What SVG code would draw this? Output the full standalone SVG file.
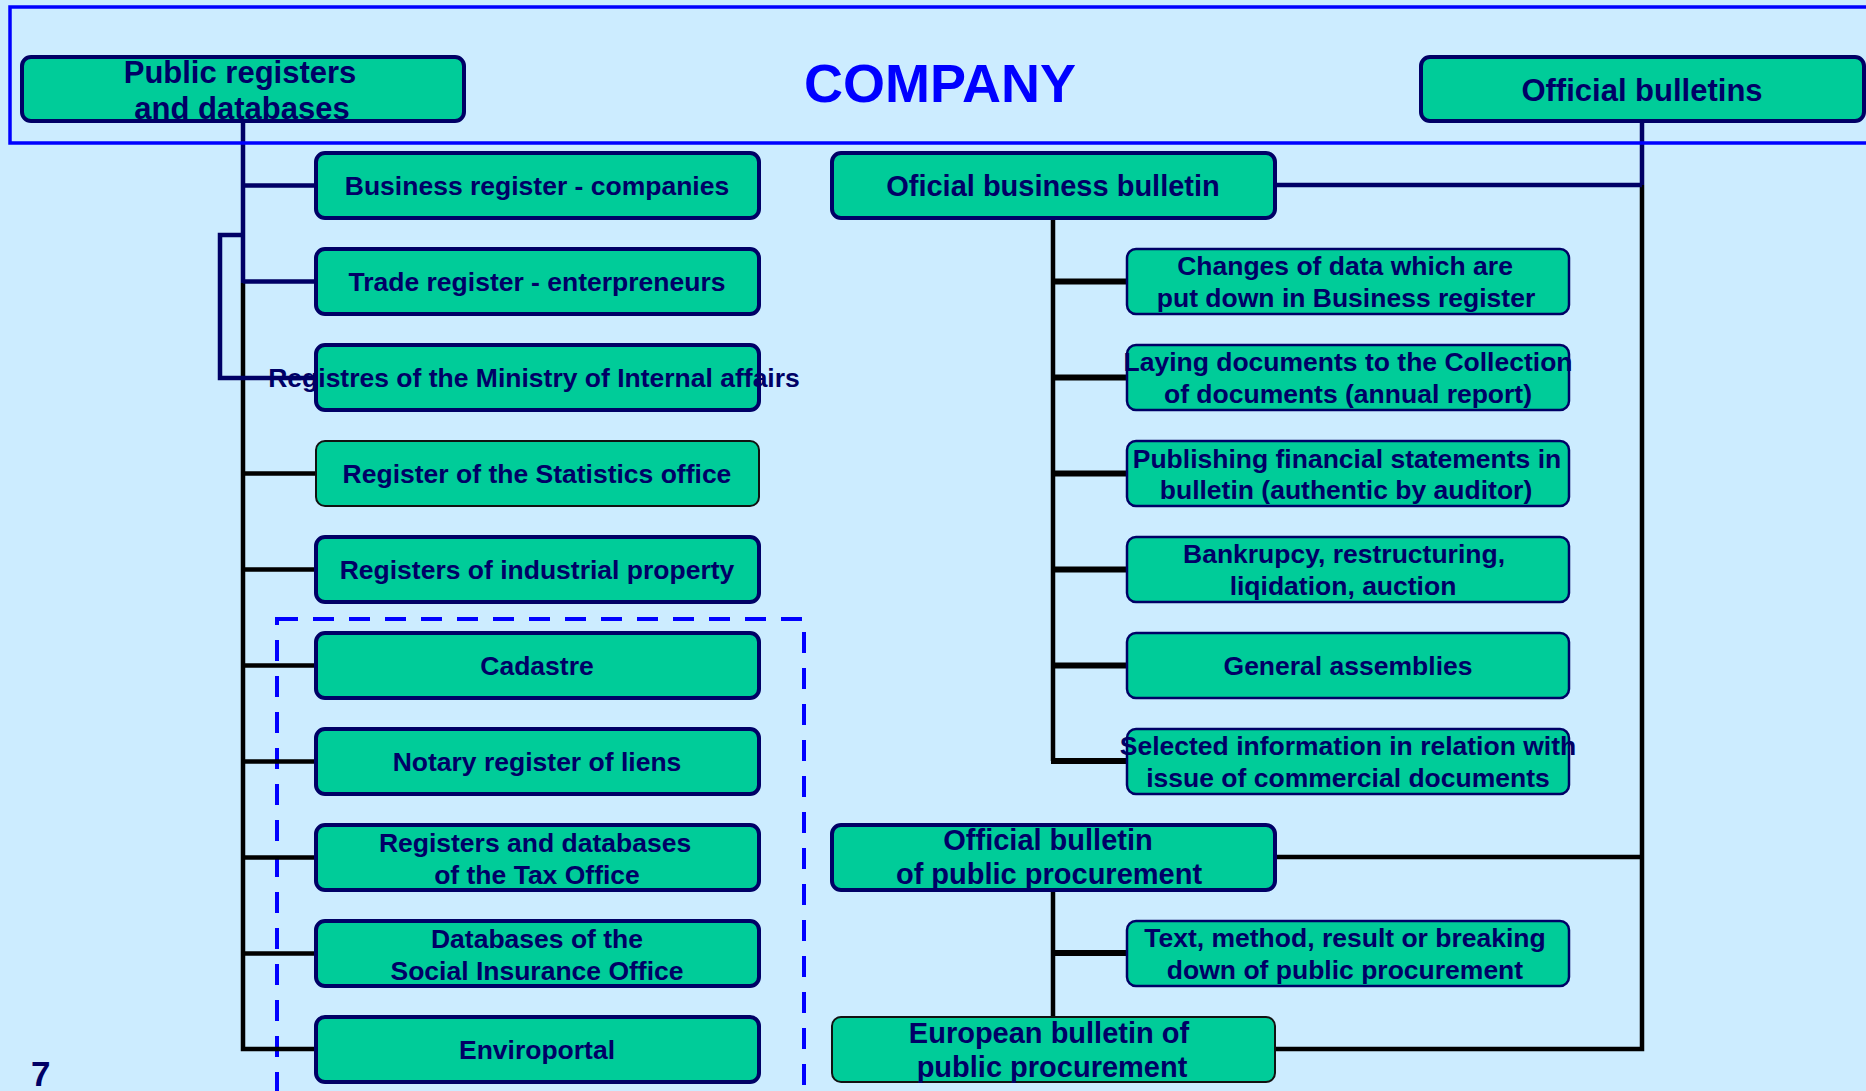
<svg xmlns="http://www.w3.org/2000/svg" width="1866" height="1091" viewBox="0 0 1866 1091">
<style>
.bg{fill:#CCECFF}
.box{fill:#00CC99;stroke:#000066;stroke-width:4}
.thin{stroke-width:2.5}
.blk{stroke:#111111;stroke-width:2}
.t{font-family:"Liberation Sans",Arial,sans-serif;font-weight:bold;fill:#000066;text-anchor:middle}
.s26{font-size:26.5px}
.s29{font-size:29px}
.s31{font-size:31px}
.nv{fill:none;stroke:#000066;stroke-width:4.5}
.bk{fill:none;stroke:#000000;stroke-width:4.5}
.br{fill:none;stroke:#000000;stroke-width:6}
</style>
<rect class="bg" x="0" y="0" width="1866" height="1091"/>
<rect id="group-frame" x="277" y="619" width="527" height="520" fill="none" stroke="#0000FF" stroke-width="4" stroke-dasharray="21 15"/>
<g id="connectors">
  <path class="bk" d="M243,283 V1049 H316"/>
  <path class="bk" d="M243,473.5 H316 M243,569.5 H316 M243,665.5 H316 M243,761.5 H316 M243,857.5 H316 M243,953.5 H316"/>
  <path class="nv" d="M243,121 V283"/>
  <path class="nv" d="M243,185.5 H316 M243,281.5 H316"/>
  <path class="nv" d="M243,235 H220 V378 H316"/>
  <path class="bk" d="M1642,185 V1049 H1275 M1275,857 H1642"/>
  <path class="nv" d="M1642,121 V185 M1275,185 H1642"/>
  <path class="bk" d="M1053,218 V761"/>
  <path class="br" d="M1053,281.5 H1127 M1053,377.5 H1127 M1053,473.5 H1127 M1053,569.5 H1127 M1053,665.5 H1127 M1051,761 H1127"/>
  <path class="bk" d="M1053,890 V1017"/>
  <path class="br" d="M1053,953 H1127"/>
</g>
<rect id="company-frame" x="10" y="7" width="1900" height="136" fill="none" stroke="#0000FF" stroke-width="3.5"/>
<text class="t" x="940" y="102" style="font-size:54px;fill:#0000FF">COMPANY</text>
<text class="t" x="31" y="1086" style="font-size:35px;text-anchor:start">7</text>

<g id="public-registers"><rect class="box" x="22" y="57" width="442" height="64" rx="9"/>
<text class="t s31" x="240" y="83">Public registers</text><text class="t s31" x="242" y="119">and databases</text></g>
<g id="official-bulletins"><rect class="box" x="1421" y="57" width="443" height="64" rx="9"/>
<text class="t s31" x="1642" y="101">Official bulletins</text></g>

<g id="business-register"><rect class="box" x="316" y="153" width="443" height="65" rx="9"/>
<text class="t s26" x="537" y="195">Business register - companies</text></g>
<g id="trade-register"><rect class="box" x="316" y="249" width="443" height="65" rx="9"/>
<text class="t s26" x="537" y="291">Trade register - enterpreneurs</text></g>
<g id="ministry-registers"><rect class="box" x="316" y="345" width="443" height="65" rx="9"/>
<text class="t s26" x="534" y="387">Registres of the Ministry of Internal affairs</text></g>
<g id="statistics-register"><rect class="box blk" x="316" y="441" width="443" height="65" rx="9"/>
<text class="t s26" x="537" y="483">Register of the Statistics office</text></g>
<g id="industrial-property"><rect class="box" x="316" y="537" width="443" height="65" rx="9"/>
<text class="t s26" x="537" y="579">Registers of industrial property</text></g>
<g id="cadastre"><rect class="box" x="316" y="633" width="443" height="65" rx="9"/>
<text class="t s26" x="537" y="675">Cadastre</text></g>
<g id="notary-register"><rect class="box" x="316" y="729" width="443" height="65" rx="9"/>
<text class="t s26" x="537" y="771">Notary register of liens</text></g>
<g id="tax-office"><rect class="box" x="316" y="825" width="443" height="65" rx="9"/>
<text class="t s26" x="535" y="852">Registers and databases</text><text class="t s26" x="537" y="884">of the Tax Office</text></g>
<g id="social-insurance"><rect class="box" x="316" y="921" width="443" height="65" rx="9"/>
<text class="t s26" x="537" y="948">Databases of the</text><text class="t s26" x="537" y="980">Social Insurance Office</text></g>
<g id="enviroportal"><rect class="box" x="316" y="1017" width="443" height="65" rx="9"/>
<text class="t s26" x="537" y="1059">Enviroportal</text></g>

<g id="oficial-business-bulletin"><rect class="box" x="832" y="153" width="443" height="65" rx="9"/>
<text class="t s29" x="1053" y="196">Oficial business bulletin</text></g>
<g id="public-procurement-bulletin"><rect class="box" x="832" y="825" width="443" height="65" rx="9"/>
<text class="t s29" x="1048" y="850">Official bulletin</text><text class="t s29" x="1049" y="884">of public procurement</text></g>
<g id="european-bulletin"><rect class="box blk" x="832" y="1017" width="443" height="65" rx="9"/>
<text class="t s29" x="1049" y="1043">European bulletin of</text><text class="t s29" x="1052" y="1077">public procurement</text></g>

<g id="changes-of-data"><rect class="box thin" x="1127" y="249" width="442" height="65" rx="9"/>
<text class="t s26" x="1345" y="275">Changes of data which are</text><text class="t s26" x="1346" y="307">put down in Business register</text></g>
<g id="laying-documents"><rect class="box thin" x="1127" y="345" width="442" height="65" rx="9"/>
<text class="t s26" x="1348" y="371">Laying documents to the Collection</text><text class="t s26" x="1348" y="403">of documents (annual report)</text></g>
<g id="financial-statements"><rect class="box thin" x="1127" y="441" width="442" height="65" rx="9"/>
<text class="t s26" x="1347" y="468">Publishing financial statements in</text><text class="t s26" x="1346" y="499">bulletin (authentic by auditor)</text></g>
<g id="bankrupcy"><rect class="box thin" x="1127" y="537" width="442" height="65" rx="9"/>
<text class="t s26" x="1344" y="563">Bankrupcy, restructuring,</text><text class="t s26" x="1343" y="595">liqidation, auction</text></g>
<g id="general-assemblies"><rect class="box thin" x="1127" y="633" width="442" height="65" rx="9"/>
<text class="t s26" x="1348" y="675">General assemblies</text></g>
<g id="selected-information"><rect class="box thin" x="1127" y="729" width="442" height="65" rx="9"/>
<text class="t s26" x="1348" y="755">Selected information in relation with</text><text class="t s26" x="1348" y="787">issue of commercial documents</text></g>
<g id="procurement-text"><rect class="box thin" x="1127" y="921" width="442" height="65" rx="9"/>
<text class="t s26" x="1345" y="947">Text, method, result or breaking</text><text class="t s26" x="1345" y="979">down of public procurement</text></g>
</svg>
